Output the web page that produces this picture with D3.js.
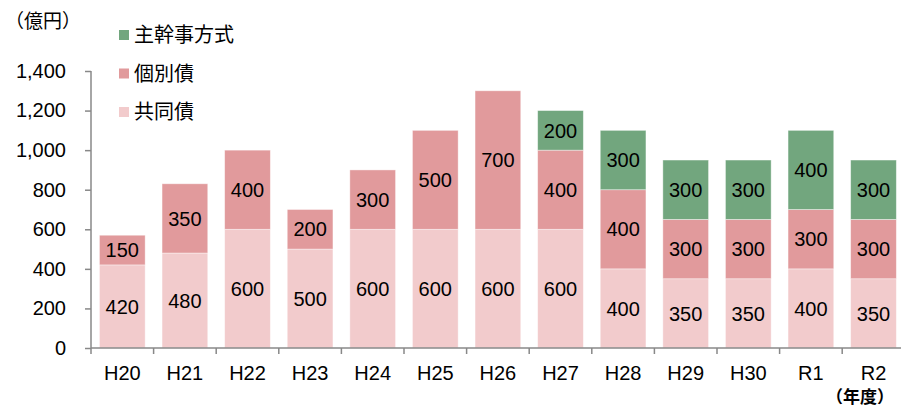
<!DOCTYPE html>
<html lang="ja">
<head>
<meta charset="UTF-8">
<title>発行額の推移</title>
<style>
  body, html { margin: 0; padding: 0; background: #fff; }
  svg text { font-family: "Liberation Sans", Arial, "Noto Sans CJK JP", sans-serif; fill: #000; }
  .jp { font-family: "Noto Sans CJK JP", sans-serif; }
</style>
</head>
<body>
<svg id="svg" width="901" height="409"></svg>
<script src="https://d3js.org/d3.v7.min.js"></script>
<script>
// data
const years = ["H20", "H21", "H22", "H23", "H24", "H25", "H26", "H27", "H28", "H29", "H30", "R1", "R2"]
const kyodo = [420, 480, 600, 500, 600, 600, 600, 600, 400, 350, 350, 400, 350]   // 共同債
const kobetsu = [150, 350, 400, 200, 300, 500, 700, 400, 400, 300, 300, 300, 300] // 個別債
const shukan = [0, 0, 0, 0, 0, 0, 0, 200, 300, 300, 300, 400, 300]              // 主幹事方式
const yTicks = [0, 200, 400, 600, 800, 1000, 1200, 1400]

const seriesNames = ["共同債", "個別債", "主幹事方式"]
const colors = ["#f2cbcc", "#e19a9c", "#72a67e"]

const rows = years.map((y, i) => ({ year: y, "共同債": kyodo[i], "個別債": kobetsu[i], "主幹事方式": shukan[i] }))

const svg = d3.select('#svg')
const plotLeft = 91, plotBase = 348, plotTop = 71

const x = d3.scaleBand()
    .domain(years)
    .range([plotLeft, plotLeft + 13 * 62.6])
    .paddingInner(0.27)
    .paddingOuter(0.135)

const y = d3.scaleLinear()
    .domain([0, 1400])
    .range([plotBase, plotTop])

const stack = d3.stack().keys(seriesNames)(rows)

// bars
const groups = svg.append('g')
    .selectAll('g')
    .data(stack)
    .join('g')
    .attr('fill', (d, i) => colors[i])

groups.selectAll('rect')
    .data(d => d.filter(s => s[1] - s[0] > 0))
    .join('rect')
    .attr('x', d => x(d.data.year))
    .attr('y', d => y(d[1]))
    .attr('width', x.bandwidth())
    .attr('height', d => y(d[0]) - y(d[1]))
    .attr('stroke', '#ffffff')
    .attr('stroke-opacity', 0.5)
    .attr('stroke-width', 0.8)

// value labels
groups.selectAll('text')
    .data(d => d.filter(s => s[1] - s[0] > 0))
    .join('text')
    .attr('x', d => x(d.data.year) + x.bandwidth() / 2)
    .attr('y', d => (y(d[0]) + y(d[1])) / 2)
    .attr('dy', '0.36em')
    .attr('text-anchor', 'middle')
    .attr('font-size', '20px')
    .text(d => d[1] - d[0])

// y axis
const yAxis = svg.append('g')
    .attr('transform', `translate(${plotLeft},0)`)
    .call(d3.axisLeft(y).tickValues(yTicks).tickSize(6).tickPadding(19).tickFormat(d3.format(',')))
yAxis.select('.domain').attr('stroke', '#888').attr('stroke-width', 1.5).attr('d', `M0,${plotTop}V${plotBase}`)
yAxis.selectAll('.tick line').attr('stroke', '#888').attr('stroke-width', 1.5)
yAxis.selectAll('text').attr('font-size', '20px')

// x axis
const bounds = years.map(d => x(d) - x.step() * x.paddingInner() / 2)
const xAxis = svg.append('g')
xAxis.append('line')
    .attr('x1', plotLeft).attr('x2', 901)
    .attr('y1', plotBase).attr('y2', plotBase)
    .attr('stroke', '#888').attr('stroke-width', 1.5)
xAxis.selectAll('.tk')
    .data(bounds)
    .join('line')
    .attr('class', 'tk')
    .attr('x1', d => d).attr('x2', d => d)
    .attr('y1', plotBase).attr('y2', plotBase + 6)
    .attr('stroke', '#888').attr('stroke-width', 1.5)
xAxis.selectAll('text')
    .data(years)
    .join('text')
    .attr('x', d => x(d) + x.bandwidth() / 2)
    .attr('y', plotBase + 25)
    .attr('dy', '0.36em')
    .attr('text-anchor', 'middle')
    .attr('font-size', '20px')
    .text(d => d)

// unit labels
svg.append('text').attr('class', 'jp')
    .attr('x', 5).attr('y', 28)
    .attr('font-size', '19px')
    .text('（億円）')
svg.append('text').attr('class', 'jp')
    .attr('x', 826).attr('y', 403)
    .attr('font-size', '17px')
    .attr('font-weight', 'bold')
    .text('（年度）')

// legend
const legendItems = ["主幹事方式", "個別債", "共同債"]
const legend = svg.append('g')
    .selectAll('g')
    .data(legendItems)
    .join('g')
    .attr('transform', (d, i) => `translate(119, ${35 + i * 38.5})`)
legend.append('rect')
    .attr('x', 0).attr('y', -5)
    .attr('width', 10).attr('height', 10)
    .attr('fill', d => colors[seriesNames.indexOf(d)])
legend.append('text')
    .attr('class', 'jp')
    .attr('x', 15)
    .attr('dy', '0.36em')
    .attr('font-size', '20px')
    .text(d => d)
</script>
</body>
</html>
